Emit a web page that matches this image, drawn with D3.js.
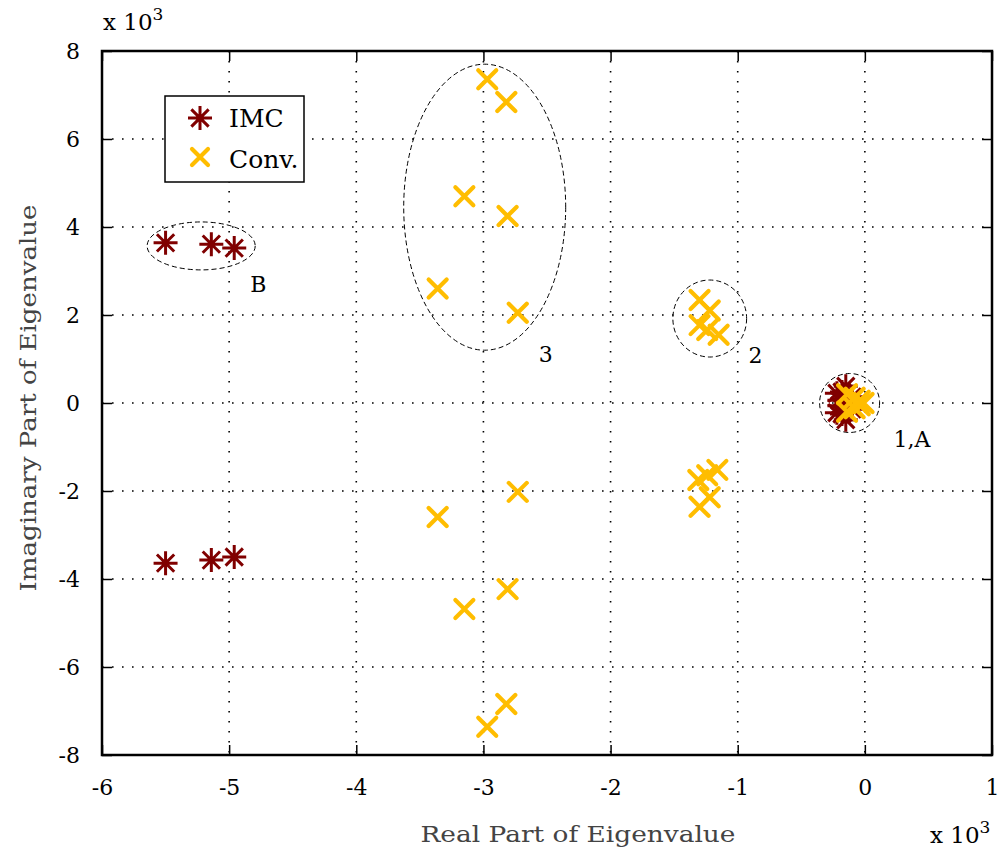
<!DOCTYPE html>
<html><head><meta charset="utf-8">
<script src="https://cdn.jsdelivr.net/npm/d3@7"></script>
<style>body{margin:0;background:#fff}svg{display:block}text{font-family:"DejaVu Serif",serif}</style>
</head><body><svg id="c" width="1003" height="853"></svg>
<script>
// values in units of 10^3
const xTicks = [-6,-5,-4,-3,-2,-1,0,1];
const yTicks = [-8,-6,-4,-2,0,2,4,6,8];
const imcX = [-5.50,-5.14,-4.96,-5.50,-5.14,-4.96,-0.18,-0.18,-0.15,-0.15,-0.20,-0.20,-0.10,-0.10,-0.22,-0.22];
const imcY = [3.64,3.61,3.52,-3.64,-3.57,-3.50,0.25,-0.25,0.38,-0.38,0.06,-0.06,0.14,-0.14,0.22,-0.22];
const convX = [-2.97,-2.82,-3.15,-2.81,-3.36,-2.73,-2.97,-2.82,-3.15,-2.81,-3.36,-2.73,
               -1.30,-1.22,-1.30,-1.24,-1.15,-1.30,-1.22,-1.31,-1.24,-1.16,
               -0.14,-0.14,-0.08,-0.08,-0.04,-0.04,-0.01];
const convY = [7.36,6.84,4.70,4.25,2.60,2.05,-7.36,-6.84,-4.68,-4.23,-2.59,-2.02,
               2.34,2.10,1.77,1.66,1.55,-2.36,-2.14,-1.75,-1.64,-1.52,
               0.20,-0.20,0.12,-0.12,0.05,-0.05,0.0];
const seriesNames = ["IMC","Conv."];
const clusterLabels = ["B","3","2","1,A"];

const svg = d3.select("#c");
const L=102,R=992,T=51,B=755;
const x = d3.scaleLinear().domain([-6,1]).range([L,R]);
const y = d3.scaleLinear().domain([-8,8]).range([B,T]);
const red="#800000", yel="#ffbd00";

// grid
const g = svg.append("g");
g.selectAll(".gx").data(xTicks.slice(1,-1)).join("line")
  .attr("x1",d=>x(d)).attr("x2",d=>x(d)).attr("y1",T).attr("y2",B)
  .attr("stroke","#000").attr("stroke-width",1.6).attr("stroke-dasharray","1.6,8.4");
g.selectAll(".gy").data(yTicks.slice(1,-1)).join("line")
  .attr("y1",d=>y(d)).attr("y2",d=>y(d)).attr("x1",L).attr("x2",R)
  .attr("stroke","#000").attr("stroke-width",1.6).attr("stroke-dasharray","1.6,8.4");

// axes via d3
const fmt = d=>String(d);
const ax = svg.append("g").attr("transform",`translate(0,${B})`).call(d3.axisBottom(x).tickValues(xTicks).tickFormat(fmt).tickSizeInner(-10).tickSizeOuter(0).tickPadding(24));
const axT = svg.append("g").attr("transform",`translate(0,${T})`).call(d3.axisTop(x).tickValues(xTicks).tickFormat("").tickSizeInner(-10).tickSizeOuter(0));
const ay = svg.append("g").attr("transform",`translate(${L},0)`).call(d3.axisLeft(y).tickValues(yTicks).tickFormat(fmt).tickSizeInner(-10).tickSizeOuter(0).tickPadding(22));
const ayR = svg.append("g").attr("transform",`translate(${R},0)`).call(d3.axisRight(y).tickValues(yTicks).tickFormat("").tickSizeInner(-10).tickSizeOuter(0));
[ax,axT,ay,ayR].forEach(a=>{a.select(".domain").remove();a.selectAll("line").attr("stroke","#000").attr("stroke-width",1.5);
  a.selectAll("text").attr("font-size",22).attr("fill","#000").attr("font-family","DejaVu Serif, serif");});
svg.append("rect").attr("x",L).attr("y",T).attr("width",R-L).attr("height",B-T)
  .attr("fill","none").attr("stroke","#000").attr("stroke-width",2.5);

// ellipses
const ell = [[-5.22,3.57,0.425,0.545],[-2.99,4.45,0.637,3.25],[-1.22,1.92,0.29,0.875],[-0.12,0.0,0.236,0.67]];
svg.append("g").selectAll("ellipse").data(ell).join("ellipse")
  .attr("cx",d=>x(d[0])).attr("cy",d=>y(d[1]))
  .attr("rx",d=>x(d[2])-x(0)).attr("ry",d=>y(0)-y(d[3]))
  .attr("fill","none").attr("stroke","#000").attr("stroke-width",1).attr("stroke-dasharray","5,3");

// markers
function star(sel,cx,cy,s){
  const p=`M${cx-s},${cy}H${cx+s}M${cx},${cy-s}V${cy+s}M${cx-s*0.72},${cy-s*0.72}L${cx+s*0.72},${cy+s*0.72}M${cx-s*0.72},${cy+s*0.72}L${cx+s*0.72},${cy-s*0.72}`;
  sel.append("path").attr("d",p).attr("stroke",red).attr("stroke-width",3).attr("fill","none");
}
function cross(sel,cx,cy,s){
  const p=`M${cx-s},${cy-s}L${cx+s},${cy+s}M${cx-s},${cy+s}L${cx+s},${cy-s}`;
  sel.append("path").attr("d",p).attr("stroke",yel).attr("stroke-width",4.2).attr("stroke-linecap","round").attr("fill","none");
}
const mg = svg.append("g");
imcX.forEach((v,i)=>star(mg,x(v),y(imcY[i]),12));
convX.forEach((v,i)=>cross(mg,x(v),y(convY[i]),9));

// cluster labels
const lab = [[-4.77,2.52],[-2.51,0.93],[-0.86,0.91],[0.37,-1.0]];
svg.append("g").selectAll("text").data(clusterLabels).join("text")
  .attr("x",(d,i)=>x(lab[i][0])).attr("y",(d,i)=>y(lab[i][1])).attr("text-anchor","middle")
  .attr("font-size",22).text(d=>d);

// legend
const lg = svg.append("g");
lg.append("rect").attr("x",165).attr("y",96).attr("width",139).attr("height",86).attr("fill","#fff").attr("stroke","#000").attr("stroke-width",1.5);
star(lg,200,118,12); cross(lg,200,157,8);
lg.append("text").attr("x",229).attr("y",127).attr("font-size",25).attr("font-family","Liberation Serif, serif").text(seriesNames[0]);
lg.append("text").attr("x",229).attr("y",168).attr("font-size",25).attr("font-family","Liberation Serif, serif").text(seriesNames[1]);

// axis titles
svg.append("text").attr("x",578).attr("y",842).attr("text-anchor","middle").attr("font-size",23).attr("fill","#444")
  .attr("textLength",315).attr("lengthAdjust","spacingAndGlyphs").text("Real Part of Eigenvalue");
svg.append("text").attr("transform","translate(36,398) rotate(-90)").attr("text-anchor","middle").attr("font-size",23).attr("fill","#444")
  .attr("textLength",387).attr("lengthAdjust","spacingAndGlyphs").text("Imaginary Part of Eigenvalue");
// multipliers
function mult(xx,yy){const t=svg.append("text").attr("x",xx).attr("y",yy).attr("font-size",23);
  t.append("tspan").text("x 10");t.append("tspan").attr("font-size",17).attr("dy",-10).text("3");}
mult(103,30); mult(930,843);
</script></body></html>
